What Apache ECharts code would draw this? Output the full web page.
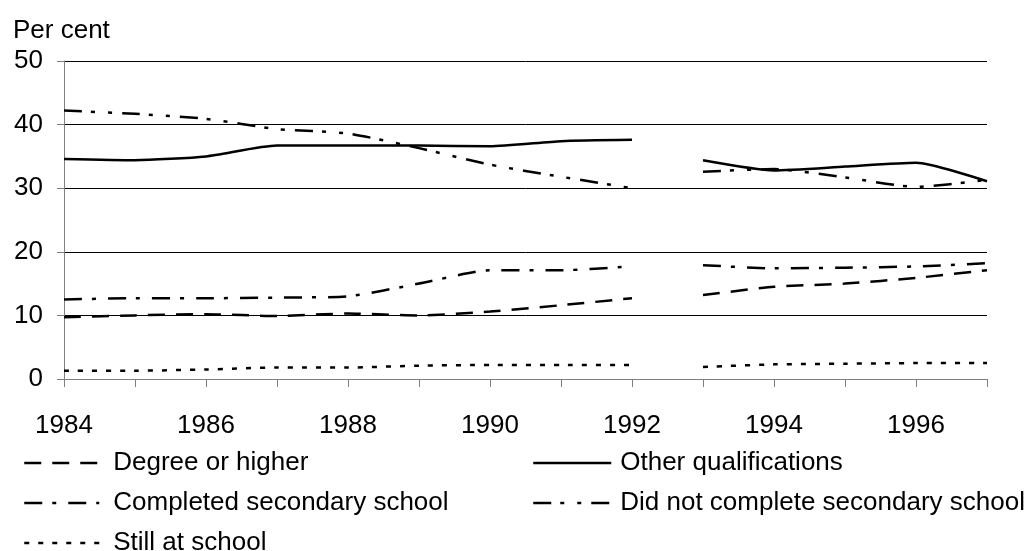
<!DOCTYPE html>
<html>
<head>
<meta charset="utf-8">
<script src="https://cdn.jsdelivr.net/npm/echarts@6/dist/echarts.min.js"></script>
<style>html,body{margin:0;padding:0;background:#fff}#c{width:1034px;height:551px}</style>
</head>
<body>
<div id="c"></div>
<script>
const years = ['1984','1985','1986','1987','1988','1989','1990','1991','1992','1993','1994','1995','1996','1997'];
const breakIndex = 9; // data resumes at 1993 after a gap
const yTicks = { min: 0, max: 50, interval: 10 };

const degree      = [9.7, 10.0, 10.2, 9.9, 10.3, 10.0, 10.6, 11.6, 12.7, 13.2, 14.5, 15.0, 15.9, 17.1];
const other       = [34.6, 34.4, 35.0, 36.7, 36.7, 36.7, 36.6, 37.4, 37.6, 34.4, 32.8, 33.4, 34.0, 31.1];
const completed   = [12.5, 12.7, 12.7, 12.8, 13.0, 15.0, 17.1, 17.1, 17.7, 17.9, 17.4, 17.5, 17.7, 18.2];
const notComplete = [42.2, 41.7, 40.9, 39.3, 38.6, 36.3, 33.7, 31.8, 30.0, 32.6, 33.0, 31.7, 30.2, 31.3];
const stillSchool = [1.3, 1.3, 1.5, 1.8, 1.8, 2.1, 2.2, 2.2, 2.2, 1.9, 2.3, 2.4, 2.5, 2.5];

const names = ['Degree or higher','Other qualifications','Completed secondary school','Did not complete secondary school','Still at school'];
const valueSets = [degree, other, completed, notComplete, stillSchool];
const dashes = [[17,11], 'solid', [18,10,4,12], [18,9,4,13,4,10], [5,9]];

const FONT = '"Liberation Sans", Arial, sans-serif';
const series = [];
names.forEach((name, k) => {
  [[0, breakIndex], [breakIndex, years.length]].forEach(([a, b]) => {
    series.push({
      type: 'line', name: name,
      data: valueSets[k].map((v, i) => (i >= a && i < b) ? v : null),
      symbol: 'none', smooth: 0.2, connectNulls: false,
      lineStyle: { color: '#000', width: 2.5, type: dashes[k] },
      itemStyle: { color: '#000' },
      emphasis: { disabled: true }, silent: true
    });
  });
});

const legendPos = [[23,450],[532,450],[23,490],[532,490],[23,530]];
const legends = names.map((n, i) => ({
  data: [n], left: legendPos[i][0], top: legendPos[i][1], orient: 'horizontal',
  itemWidth: (i % 2) ? 78 : 75, itemHeight: 14, selectedMode: false, padding: 0,
  itemStyle: { opacity: 0 },
  lineStyle: { width: 2.5, color: '#000', type: dashes[i] },
  textStyle: { fontFamily: FONT, fontSize: 26, color: '#000', padding: [0,0,0,(i % 2) ? 4 : 9] }
}));

const chart = echarts.init(document.getElementById('c'), null, { renderer: 'canvas' });
chart.setOption({
  animation: false,
  backgroundColor: '#fff',
  title: { text: 'Per cent', left: 13, top: 18, padding: 0,
    textStyle: { fontFamily: FONT, fontSize: 26, fontWeight: 'normal', color: '#000' } },
  grid: { left: 64, right: 47, top: 61, bottom: 172, containLabel: false },
  legend: legends,
  xAxis: {
    type: 'category', data: years, boundaryGap: false,
    axisLine: { show: true, lineStyle: { color: '#808080', width: 1 } },
    axisTick: { show: true, interval: 0, length: 8, inside: false, lineStyle: { color: '#808080', width: 1 } },
    axisLabel: { interval: 1, margin: 34, fontFamily: FONT, fontSize: 26, color: '#000' },
    splitLine: { show: false }
  },
  yAxis: {
    type: 'value', min: yTicks.min, max: yTicks.max, interval: yTicks.interval,
    axisLine: { show: true, lineStyle: { color: '#808080', width: 1 } },
    axisTick: { show: true, length: 7, lineStyle: { color: '#808080', width: 1 } },
    axisLabel: { margin: 21, fontFamily: FONT, fontSize: 26, color: '#000' },
    splitLine: { show: true, lineStyle: { color: '#000', width: 1 } }
  },
  series: series
});
</script>
</body>
</html>
